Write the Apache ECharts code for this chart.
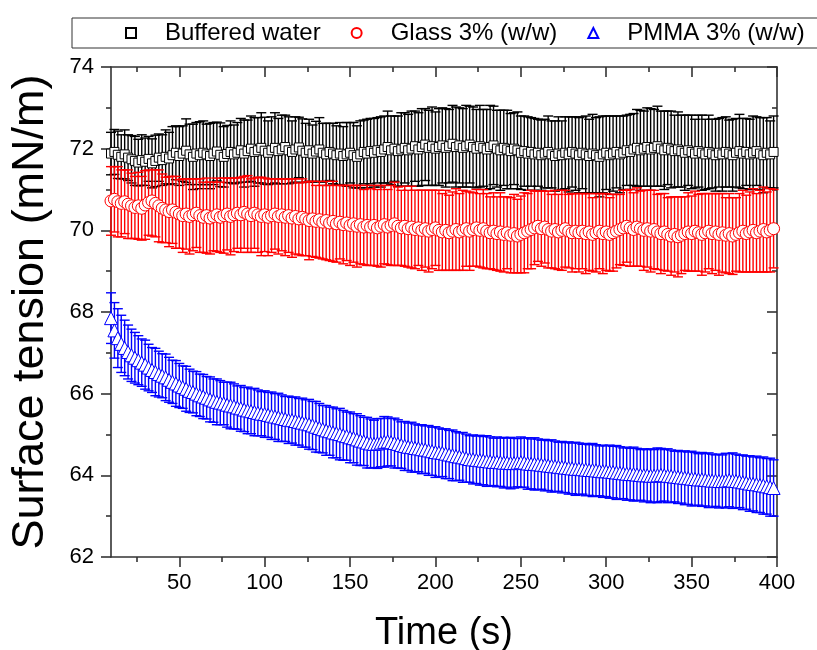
<!DOCTYPE html>
<html>
<head>
<meta charset="utf-8">
<script src="https://cdn.jsdelivr.net/npm/echarts@6/dist/echarts.min.js"></script>
<style>
  html, body { margin: 0; padding: 0; background: #fff; }
  #chart { width: 817px; height: 650px; }
</style>
</head>
<body>
<div id="chart"></div>
<script>
// Sampling: one reading every 2 s starting at 10 s
const TIME_START = 10;
const TIME_STEP = 2;

const xMajorTicks = [50, 100, 150, 200, 250, 300, 350, 400];
const xMinorTicks = [25, 75, 125, 175, 225, 275, 325, 375];

// Buffered water: mean surface tension (mN/m) and its error
const waterMean = [
  71.88, 71.92, 71.85, 71.80, 71.86, 71.78, 71.74,
  71.70, 71.66, 71.72, 71.68, 71.75, 71.64, 71.70, 71.78, 71.72, 71.80,
  71.76, 71.84, 71.90, 71.82, 71.88, 71.95, 71.86, 71.80, 71.88, 71.84,
  71.90, 71.86, 71.82, 71.88, 71.93, 71.85, 71.80, 71.87, 71.92, 71.86,
  71.90, 71.96, 71.88, 71.94, 72.00, 71.92, 71.96, 72.02, 71.95, 71.90,
  71.96, 72.02, 71.94, 71.98, 72.04, 71.96, 71.92, 71.98, 72.03, 71.95,
  71.90, 71.96, 71.88, 71.93, 71.98, 71.90, 71.86, 71.92, 71.88, 71.84,
  71.88, 71.82, 71.86, 71.90, 71.84, 71.80, 71.86, 71.92, 71.88, 71.94,
  71.90, 71.96, 71.92, 71.98, 72.04, 71.96, 72.00, 71.94, 71.98, 72.02,
  71.96, 72.00, 72.06, 71.98, 72.04, 72.10, 72.02, 72.06, 72.00, 72.04,
  72.08, 72.02, 72.06, 72.12, 72.04, 72.08, 72.02, 72.06, 72.10, 72.04,
  72.00, 72.06, 72.02, 71.98, 72.04, 72.08, 72.00, 71.96, 72.02, 71.98,
  71.94, 72.00, 71.96, 71.90, 71.94, 71.88, 71.92, 71.86, 71.90, 71.84,
  71.88, 71.92, 71.86, 71.82, 71.88, 71.84, 71.90, 71.86, 71.92, 71.88,
  71.84, 71.90, 71.86, 71.82, 71.88, 71.84, 71.80, 71.86, 71.90, 71.84,
  71.88, 71.92, 71.86, 71.90, 71.96, 71.92, 71.98, 72.02, 71.96, 72.00,
  72.04, 71.98, 72.02, 72.06, 72.00, 71.96, 72.02, 71.98, 71.94, 71.98,
  71.94, 71.90, 71.96, 71.92, 71.88, 71.94, 71.90, 71.86, 71.92, 71.88,
  71.84, 71.90, 71.86, 71.92, 71.88, 71.84, 71.90, 71.94, 71.88, 71.92,
  71.86, 71.90, 71.94, 71.88, 71.84, 71.90, 71.86, 71.92
];
const waterErr = [
  0.52, 0.55, 0.58, 0.54, 0.60, 0.56, 0.58,
  0.60, 0.57, 0.62, 0.58, 0.55, 0.60, 0.63, 0.58, 0.62, 0.66,
  0.64, 0.70, 0.66, 0.72, 0.68, 0.78, 0.74, 0.80, 0.76, 0.82,
  0.78, 0.74, 0.80, 0.76, 0.72, 0.78, 0.74, 0.70, 0.76, 0.72,
  0.74, 0.78, 0.82, 0.76, 0.80, 0.84, 0.80, 0.86, 0.82, 0.78,
  0.82, 0.86, 0.80, 0.84, 0.78, 0.82, 0.76, 0.80, 0.74, 0.78,
  0.72, 0.76, 0.70, 0.74, 0.78, 0.72, 0.76, 0.70, 0.74, 0.72,
  0.76, 0.72, 0.78, 0.74, 0.80, 0.76, 0.82, 0.78, 0.84, 0.80,
  0.84, 0.80, 0.86, 0.82, 0.88, 0.84, 0.80, 0.86, 0.90, 0.86,
  0.88, 0.92, 0.86, 0.90, 0.94, 0.88, 0.92, 0.96, 0.90, 0.94,
  0.92, 0.96, 0.90, 0.94, 0.98, 0.92, 0.96, 1.00, 0.94, 0.98,
  0.96, 1.00, 0.94, 0.98, 1.02, 0.96, 0.94, 0.98, 0.92, 0.96,
  0.92, 0.88, 0.94, 0.90, 0.86, 0.90, 0.84, 0.88, 0.82, 0.86,
  0.84, 0.88, 0.82, 0.86, 0.90, 0.84, 0.88, 0.92, 0.86, 0.90,
  0.92, 0.88, 0.94, 0.90, 0.96, 0.92, 0.98, 0.94, 0.90, 0.96,
  0.92, 0.88, 0.94, 0.90, 0.86, 0.92, 0.88, 0.94, 0.98, 0.92,
  0.96, 1.00, 0.94, 0.98, 0.92, 0.96, 0.90, 0.94, 0.88, 0.92,
  0.88, 0.92, 0.86, 0.90, 0.84, 0.88, 0.92, 0.86, 0.90, 0.84,
  0.88, 0.84, 0.90, 0.86, 0.82, 0.88, 0.84, 0.90, 0.86, 0.82,
  0.86, 0.90, 0.84, 0.88, 0.92, 0.86, 0.82, 0.88
];

// Glass 3% (w/w)
const glassMean = [
  70.72, 70.76, 70.70, 70.66, 70.70, 70.64, 70.60,
  70.56, 70.60, 70.54, 70.62, 70.68, 70.72, 70.66, 70.60, 70.54, 70.50,
  70.46, 70.50, 70.44, 70.40, 70.36, 70.40, 70.34, 70.38, 70.42, 70.36,
  70.32, 70.36, 70.30, 70.34, 70.38, 70.32, 70.36, 70.40, 70.34, 70.38,
  70.42, 70.38, 70.44, 70.40, 70.36, 70.42, 70.38, 70.34, 70.38, 70.32,
  70.36, 70.40, 70.34, 70.38, 70.32, 70.36, 70.30, 70.34, 70.28, 70.32,
  70.28, 70.24, 70.28, 70.22, 70.26, 70.20, 70.24, 70.18, 70.22, 70.16,
  70.20, 70.14, 70.18, 70.12, 70.16, 70.10, 70.14, 70.08, 70.12, 70.08,
  70.12, 70.06, 70.10, 70.14, 70.08, 70.12, 70.16, 70.10, 70.06, 70.10,
  70.04, 70.08, 70.02, 70.06, 70.00, 70.04, 69.98, 70.02, 70.06, 70.00,
  69.96, 70.00, 69.94, 69.98, 70.02, 69.96, 70.00, 70.04, 69.98, 70.02,
  70.06, 70.00, 70.04, 69.98, 69.94, 69.98, 69.92, 69.96, 69.90, 69.94,
  69.88, 69.92, 69.86, 69.90, 69.94, 69.98, 70.02, 70.06, 70.10, 70.04,
  70.08, 70.02, 69.98, 70.02, 69.96, 70.00, 70.04, 69.98, 69.94, 69.98,
  69.94, 69.98, 69.92, 69.96, 69.90, 69.94, 69.98, 69.92, 69.96, 69.90,
  69.94, 69.98, 70.02, 70.06, 70.10, 70.06, 70.02, 70.08, 70.04, 70.00,
  70.04, 69.98, 70.02, 69.96, 69.92, 69.96, 69.90, 69.86, 69.90, 69.84,
  69.88, 69.92, 69.96, 69.92, 69.98, 69.94, 69.90, 69.94, 69.98, 69.92,
  69.96, 69.90, 69.94, 69.88, 69.92, 69.86, 69.90, 69.94, 69.98, 69.92,
  69.96, 70.00, 69.94, 69.98, 70.02, 69.96, 70.00, 70.04
];
const glassErr = [
  0.84, 0.80, 0.86, 0.82, 0.78, 0.84, 0.80,
  0.76, 0.82, 0.78, 0.84, 0.80, 0.86, 0.82, 0.88, 0.84, 0.80,
  0.86, 0.82, 0.88, 0.84, 0.90, 0.86, 0.92, 0.88, 0.84, 0.90,
  0.86, 0.92, 0.88, 0.84, 0.90, 0.86, 0.92, 0.88, 0.94, 0.90,
  0.86, 0.92, 0.88, 0.94, 0.90, 0.86, 0.92, 0.96, 0.90, 0.94,
  0.90, 0.86, 0.92, 0.88, 0.94, 0.90, 0.96, 0.92, 0.88, 0.94,
  0.90, 0.96, 0.92, 0.88, 0.94, 0.90, 0.96, 0.92, 0.98, 0.94,
  0.90, 0.96, 0.92, 0.98, 0.94, 1.00, 0.96, 0.92, 0.98, 0.94,
  0.98, 0.94, 1.00, 0.96, 0.92, 0.98, 1.02, 0.96, 0.92, 0.98,
  0.94, 1.00, 0.96, 0.92, 0.98, 0.94, 1.00, 0.96, 0.92, 0.98,
  0.94, 0.98, 0.92, 0.96, 1.00, 0.94, 0.98, 0.92, 0.96, 0.90,
  0.94, 0.90, 0.96, 0.92, 0.88, 0.94, 0.90, 0.96, 0.92, 0.88,
  0.92, 0.96, 0.90, 0.94, 0.98, 0.92, 0.96, 0.90, 0.86, 0.92,
  0.88, 0.94, 0.90, 0.96, 0.92, 0.98, 0.94, 0.90, 0.96, 0.92,
  0.96, 0.92, 0.98, 0.94, 0.90, 0.96, 0.92, 0.98, 0.94, 0.90,
  0.94, 0.90, 0.86, 0.92, 0.88, 0.94, 0.90, 0.96, 0.92, 0.98,
  0.94, 1.00, 0.96, 0.92, 0.98, 0.94, 0.90, 0.96, 0.92, 0.98,
  0.94, 0.90, 0.96, 0.92, 0.98, 0.94, 1.00, 0.96, 0.92, 0.98,
  0.94, 1.00, 0.96, 0.92, 0.98, 0.94, 0.90, 0.96, 1.00, 0.94,
  0.98, 1.02, 0.96, 1.00, 1.04, 0.98, 1.02, 0.96
];

// PMMA 3% (w/w)
const pmmaMean = [
  67.85, 67.55, 67.36, 67.22, 67.12, 67.02, 66.94,
  66.88, 66.82, 66.76, 66.71, 66.64, 66.58, 66.53, 66.48, 66.44, 66.40,
  66.34, 66.29, 66.25, 66.20, 66.16, 66.12, 66.07, 66.04, 66.00, 65.96,
  65.93, 65.90, 65.86, 65.83, 65.80, 65.78, 65.76, 65.73, 65.71, 65.69,
  65.66, 65.64, 65.61, 65.59, 65.57, 65.55, 65.53, 65.51, 65.50, 65.48,
  65.46, 65.44, 65.42, 65.40, 65.38, 65.36, 65.35, 65.33, 65.31, 65.29,
  65.27, 65.25, 65.22, 65.19, 65.16, 65.13, 65.10, 65.08, 65.05, 65.03,
  65.01, 64.98, 64.96, 64.93, 64.91, 64.88, 64.85, 64.83, 64.80, 64.78,
  64.77, 64.78, 64.80, 64.82, 64.83, 64.81, 64.79, 64.77, 64.74, 64.72,
  64.70, 64.69, 64.67, 64.66, 64.64, 64.63, 64.61, 64.59, 64.57, 64.56,
  64.55, 64.53, 64.51, 64.49, 64.47, 64.46, 64.44, 64.42, 64.40, 64.39,
  64.38, 64.37, 64.36, 64.35, 64.34, 64.33, 64.33, 64.32, 64.31, 64.31,
  64.30, 64.30, 64.31, 64.32, 64.31, 64.29, 64.28, 64.28, 64.27, 64.26,
  64.25, 64.24, 64.23, 64.22, 64.21, 64.20, 64.19, 64.18, 64.17, 64.16,
  64.16, 64.15, 64.14, 64.13, 64.13, 64.12, 64.11, 64.10, 64.10, 64.09,
  64.08, 64.07, 64.06, 64.05, 64.04, 64.03, 64.03, 64.02, 64.01, 64.00,
  64.00, 63.99, 63.99, 64.00, 64.01, 64.00, 63.99, 63.98, 63.97, 63.96,
  63.95, 63.94, 63.93, 63.92, 63.91, 63.90, 63.90, 63.89, 63.88, 63.87,
  63.87, 63.86, 63.86, 63.87, 63.88, 63.87, 63.86, 63.85, 63.83, 63.82,
  63.80, 63.79, 63.78, 63.76, 63.75, 63.73, 63.71, 63.69
];
const pmmaErr = [
  0.62, 0.68, 0.72, 0.70, 0.68, 0.66, 0.64,
  0.62, 0.60, 0.58, 0.60, 0.57, 0.55, 0.58, 0.56, 0.54, 0.57,
  0.55, 0.53, 0.56, 0.54, 0.52, 0.55, 0.53, 0.51, 0.54, 0.52,
  0.54, 0.52, 0.55, 0.53, 0.56, 0.54, 0.52, 0.55, 0.57, 0.55,
  0.53, 0.56, 0.54, 0.57, 0.55, 0.58, 0.56, 0.54, 0.57, 0.55,
  0.58, 0.56, 0.59, 0.57, 0.55, 0.58, 0.56, 0.59, 0.57, 0.60,
  0.58, 0.61, 0.59, 0.62, 0.60, 0.58, 0.61, 0.59, 0.62, 0.60,
  0.63, 0.61, 0.59, 0.62, 0.60, 0.63, 0.61, 0.59, 0.62, 0.60,
  0.58, 0.61, 0.59, 0.62, 0.60, 0.58, 0.61, 0.59, 0.57, 0.60,
  0.58, 0.61, 0.59, 0.57, 0.60, 0.58, 0.61, 0.59, 0.62, 0.60,
  0.58, 0.61, 0.59, 0.62, 0.60, 0.58, 0.61, 0.59, 0.57, 0.60,
  0.58, 0.61, 0.59, 0.62, 0.60, 0.58, 0.61, 0.59, 0.62, 0.60,
  0.63, 0.61, 0.59, 0.62, 0.60, 0.63, 0.61, 0.64, 0.62, 0.60,
  0.63, 0.61, 0.64, 0.62, 0.60, 0.63, 0.61, 0.64, 0.62, 0.65,
  0.63, 0.61, 0.64, 0.62, 0.65, 0.63, 0.61, 0.64, 0.62, 0.65,
  0.63, 0.66, 0.64, 0.62, 0.65, 0.63, 0.66, 0.64, 0.62, 0.65,
  0.63, 0.66, 0.64, 0.67, 0.65, 0.63, 0.66, 0.64, 0.62, 0.65,
  0.63, 0.66, 0.64, 0.67, 0.65, 0.63, 0.66, 0.64, 0.67, 0.65,
  0.63, 0.66, 0.64, 0.67, 0.65, 0.68, 0.66, 0.64, 0.67, 0.65,
  0.68, 0.66, 0.69, 0.67, 0.70, 0.68, 0.71, 0.69
];

const FONT = '"Liberation Sans", Arial, sans-serif';
const AXIS_COLOR = '#333333';

function timeAt(i) { return TIME_START + i * TIME_STEP; }

function pointRows(mean) {
  return mean.map((v, i) => [timeAt(i), v]);
}
function errorRows(mean, err) {
  return mean.map((v, i) => [timeAt(i), v - err[i], v + err[i]]);
}

// Vertical whisker with a short cap at each end
function errorBarRenderer(color) {
  const capHalf = 5;
  return function (params, api) {
    const x = api.value(0);
    const top = api.coord([x, api.value(2)]);
    const bottom = api.coord([x, api.value(1)]);
    const style = { stroke: color, lineWidth: 1.4, fill: null };
    return {
      type: 'group',
      children: [
        { type: 'line', shape: { x1: top[0], y1: top[1], x2: bottom[0], y2: bottom[1] }, style },
        { type: 'line', shape: { x1: top[0] - capHalf, y1: top[1], x2: top[0] + capHalf, y2: top[1] }, style },
        { type: 'line', shape: { x1: bottom[0] - capHalf, y1: bottom[1], x2: bottom[0] + capHalf, y2: bottom[1] }, style }
      ]
    };
  };
}

const sets = [
  { name: 'Buffered water', mean: waterMean, err: waterErr, color: '#000000', symbol: 'rect', size: 9 },
  { name: 'Glass 3% (w/w)', mean: glassMean, err: glassErr, color: '#ff0000', symbol: 'circle', size: 12 },
  { name: 'PMMA 3% (w/w)', mean: pmmaMean, err: pmmaErr, color: '#0000ff', symbol: 'triangle', size: 13 }
];

const series = [];
sets.forEach(s => {
  series.push({
    name: s.name + ' error',
    type: 'custom',
    xAxisIndex: 0,
    yAxisIndex: 0,
    renderItem: errorBarRenderer(s.color),
    encode: { x: 0, y: [1, 2] },
    data: errorRows(s.mean, s.err),
    silent: true
  });
  series.push({
    name: s.name,
    type: 'scatter',
    xAxisIndex: 0,
    yAxisIndex: 0,
    symbol: s.symbol,
    symbolSize: s.size,
    itemStyle: { color: '#ffffff', borderColor: s.color, borderWidth: 1, opacity: 1 },
    data: pointRows(s.mean),
    silent: true
  });
});

const xRange = { min: 10, max: 400 };
const tickLine = { lineStyle: { color: AXIS_COLOR, width: 1.6 } };

const option = {
  animation: false,
  backgroundColor: '#ffffff',
  textStyle: { fontFamily: FONT },
  grid: { left: 111, right: 40, top: 67, height: 490, containLabel: false, outerBoundsMode: 'none' },
  legend: {
    data: sets.map(s => s.name),
    left: 72,
    top: 18,
    width: 760,
    orient: 'horizontal',
    padding: [3, 14, 3, 53],
    itemGap: 30,
    itemWidth: 10,
    itemHeight: 10,
    borderColor: '#333',
    borderWidth: 1,
    textStyle: { fontFamily: FONT, fontSize: 24, color: '#000', padding: [0, 0, 0, 24] }
  },
  xAxis: [
    {
      type: 'value', position: 'bottom', ...xRange,
      name: 'Time (s)', nameLocation: 'middle', nameGap: 58,
      nameTextStyle: { fontFamily: FONT, fontSize: 38, color: '#000' },
      axisLine: { show: true, onZero: false, ...tickLine },
      axisTick: { show: true, inside: false, length: 10, customValues: xMajorTicks, ...tickLine },
      axisLabel: { show: true, customValues: xMajorTicks, margin: 15, fontFamily: FONT, fontSize: 22, color: '#000' },
      splitLine: { show: false }
    },
    {
      type: 'value', position: 'bottom', ...xRange,
      axisLine: { show: false, onZero: false },
      axisTick: { show: true, inside: false, length: 5, customValues: xMinorTicks, ...tickLine },
      axisLabel: { show: false },
      splitLine: { show: false }
    },
    {
      type: 'value', position: 'top', ...xRange,
      axisLine: { show: true, onZero: false, ...tickLine },
      axisTick: { show: true, inside: true, length: 10, customValues: xMajorTicks, ...tickLine },
      axisLabel: { show: false },
      splitLine: { show: false }
    },
    {
      type: 'value', position: 'top', ...xRange,
      axisLine: { show: false, onZero: false },
      axisTick: { show: true, inside: true, length: 5, customValues: xMinorTicks, ...tickLine },
      axisLabel: { show: false },
      splitLine: { show: false }
    }
  ],
  yAxis: [
    {
      type: 'value', position: 'left', min: 62, max: 74, interval: 2,
      name: 'Surface tension (mN/m)', nameLocation: 'middle', nameGap: 58,
      nameTextStyle: { fontFamily: FONT, fontSize: 45, color: '#000' },
      axisLine: { show: true, onZero: false, ...tickLine },
      axisTick: { show: true, inside: false, length: 10, ...tickLine },
      minorTick: { show: true, splitNumber: 2, length: 5, lineStyle: { color: AXIS_COLOR, width: 1.6 } },
      axisLabel: { show: true, margin: 17, fontFamily: FONT, fontSize: 22, color: '#000' },
      splitLine: { show: false }
    },
    {
      type: 'value', position: 'right', min: 62, max: 74, interval: 2,
      axisLine: { show: true, onZero: false, ...tickLine },
      axisTick: { show: true, inside: true, length: 10, ...tickLine },
      minorTick: { show: true, splitNumber: 2, length: 5, lineStyle: { color: AXIS_COLOR, width: 1.6 } },
      axisLabel: { show: false },
      splitLine: { show: false }
    }
  ],
  series
};

const chart = echarts.init(document.getElementById('chart'), null, { renderer: 'canvas' });
chart.setOption(option);
</script>
</body>
</html>
